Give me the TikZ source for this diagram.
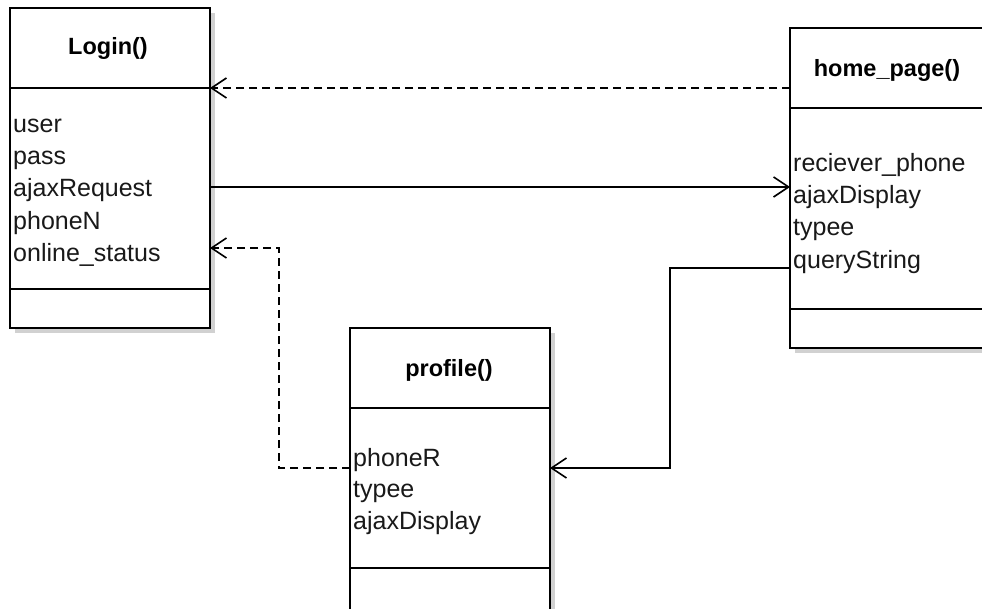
\documentclass[tikz,border=0pt]{standalone}
\usepackage{fontspec}
\setmainfont{Liberation Sans}
\usetikzlibrary{arrows.meta}

\tikzset{
  classbox/.style={draw=black, fill=white, line width=1.6pt, minimum width=200pt,
    inner sep=0pt, outer sep=0pt},
  boxshadow/.style={fill=black!18, draw=none},
  divider/.style={line width=1.6pt},
  title/.style={font=\fontsize{23.5}{28}\selectfont\bfseries, inner sep=0pt, anchor=center},
  attr/.style={font=\fontsize{25}{30}\selectfont, inner sep=0pt, anchor=base west, text=black!90},
  link/.style={line width=1.6pt, -{Straight Barb[length=15pt,width=20pt]}},
  deplink/.style={link, dash pattern=on 8pt off 5pt},
}

\begin{document}
\begin{tikzpicture}[x=1pt, y=-1pt]
\useasboundingbox (0,0) rectangle (982,609);
\clip (0,0) rectangle (982,609);

% ---- Login() ----
\fill[boxshadow] (15,13) rectangle (215,333);
\node[classbox, minimum height=320pt] (login) at (110,168) {};
\draw[divider] (login.west |- 0,88) -- (login.east |- 0,88);
\draw[divider] (login.west |- 0,289) -- (login.east |- 0,289);
\node[title] (logintitle) at (108,48) {Login()};
\node[attr] (lu) at (13,133) {user};
\node[attr] (lp) at (13,165) {pass};
\node[attr] (la) at (13,197) {ajaxRequest};
\node[attr] (ln) at (13,229.5) {phoneN};
\node[attr] (lo) at (13,262) {online\_status};

% ---- home_page() ----
\fill[boxshadow] (795,33) rectangle (995,353);
\node[classbox, minimum height=320pt] (home) at (890,188) {};
\draw[divider] (home.west |- 0,108) -- (home.east |- 0,108);
\draw[divider] (home.west |- 0,309) -- (home.east |- 0,309);
\node[title] (hometitle) at (887,70) {home\_page()};
\node[attr] (hr) at (793,171.5) {reciever\_phone};
\node[attr] (ha) at (793,203.8) {ajaxDisplay};
\node[attr] (ht) at (793,236) {typee};
\node[attr] (hq) at (793,268.3) {queryString};

% ---- profile() ----
\fill[boxshadow] (355,333) rectangle (555,653);
\node[classbox, minimum height=320pt] (prof) at (450,488) {};
\draw[divider] (prof.west |- 0,408) -- (prof.east |- 0,408);
\draw[divider] (prof.west |- 0,568) -- (prof.east |- 0,568);
\node[title] (proftitle) at (449,370) {profile()};
\node[attr] (pr) at (353,466) {phoneR};
\node[attr] (pt) at (353,497.5) {typee};
\node[attr] (pa) at (353,529) {ajaxDisplay};

% ---- connectors ----
\draw[deplink] (home.west |- 0,88) -- (login.east |- 0,88);
\draw[link] (login.east |- 0,187) -- (home.west |- 0,187);
\draw[link] (home.west |- 0,268) -- (670,268) -- (670,468) -- (prof.east |- 0,468);
\draw[deplink] (prof.west |- 0,468) -- (279,468) -- (279,248) -- (login.east |- 0,248);
\end{tikzpicture}
\end{document}
